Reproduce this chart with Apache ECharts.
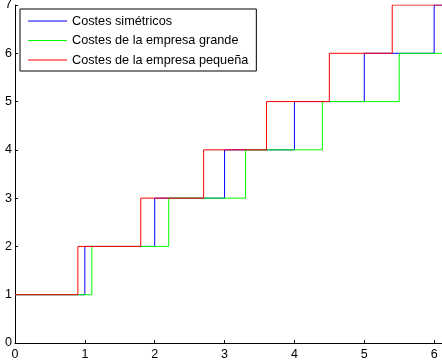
<!DOCTYPE html>
<html>
<head>
<meta charset="utf-8">
<script src="https://cdn.jsdelivr.net/npm/echarts@6/dist/echarts.min.js"></script>
<style>
html,body{margin:0;padding:0;background:#fff;}
#chart{width:442px;height:362px;}
</style>
</head>
<body>
<div id="chart"></div>
<script>
// Series names
const seriesNames = ['Costes simétricos', 'Costes de la empresa grande', 'Costes de la empresa pequeña'];
// Step positions (x) and levels (y) for each series
const simX = [0, 1, 2, 3, 4, 5, 6, 7];
const simY = [1, 2, 3, 4, 5, 6, 7, 7];
const grandeX = [0, 1.1, 2.2, 3.3, 4.4, 5.5, 7];
const grandeY = [1, 2, 3, 4, 5, 6, 6];
const pequenaX = [0, 0.9, 1.8, 2.7, 3.6, 4.5, 5.4, 7];
const pequenaY = [1, 2, 3, 4, 5, 6, 7, 7];
// Tick labels
const xTicks = [0, 1, 2, 3, 4, 5, 6];
const yTicks = [0, 1, 2, 3, 4, 5, 6, 7];
const colors = ['#0000ff', '#00ff00', '#ff0000'];

function pairs(xs, ys) { return xs.map((x, i) => [x, ys[i]]); }

const chart = echarts.init(document.getElementById('chart'), null, {renderer: 'canvas'});
const labelFont = {color: '#000', fontFamily: 'Liberation Sans, Arial, sans-serif', fontSize: 12.5};
const data = [pairs(simX, simY), pairs(grandeX, grandeY), pairs(pequenaX, pequenaY)];
chart.setOption({
  animation: false,
  grid: {left: 15, top: 5, height: 338, width: 489, containLabel: false, outerBoundsMode: 'none'},
  xAxis: {
    type: 'value', min: 0, max: 7, interval: 1,
    axisLine: {lineStyle: {color: '#000', width: 1}},
    axisTick: {inside: true, length: 3, lineStyle: {color: '#000'}},
    splitLine: {show: false},
    axisLabel: Object.assign({margin: 5, formatter: v => xTicks.includes(v) ? String(v) : ''}, labelFont)
  },
  yAxis: {
    type: 'value', min: 0, max: 7, interval: 1,
    axisLine: {show: true, lineStyle: {color: '#000', width: 1}},
    axisTick: {show: true, inside: true, length: 3, lineStyle: {color: '#000'}},
    splitLine: {show: false},
    axisLabel: Object.assign({margin: 3, formatter: v => yTicks.includes(v) ? String(v) : ''}, labelFont)
  },
  legend: {
    orient: 'vertical', left: 20, top: 9,
    itemWidth: 39, itemHeight: 1, itemGap: 5.5,
    padding: [5, 8, 4, 8],
    borderColor: '#000', borderWidth: 1, backgroundColor: '#fff',
    textStyle: Object.assign({lineHeight: 14, fontSize: 12.7}, {color: '#000', fontFamily: 'Liberation Sans, Arial, sans-serif'}),
    itemStyle: {borderWidth: 0},
    data: seriesNames.map(n => ({name: n, icon: 'rect'}))
  },
  series: seriesNames.map((n, i) => ({
    name: n, type: 'line', step: 'end', symbol: 'none',
    data: data[i], clip: true,
    lineStyle: {color: colors[i], width: 1},
    itemStyle: {color: colors[i]},
    z: 2 + i
  }))
});
</script>
</body>
</html>
